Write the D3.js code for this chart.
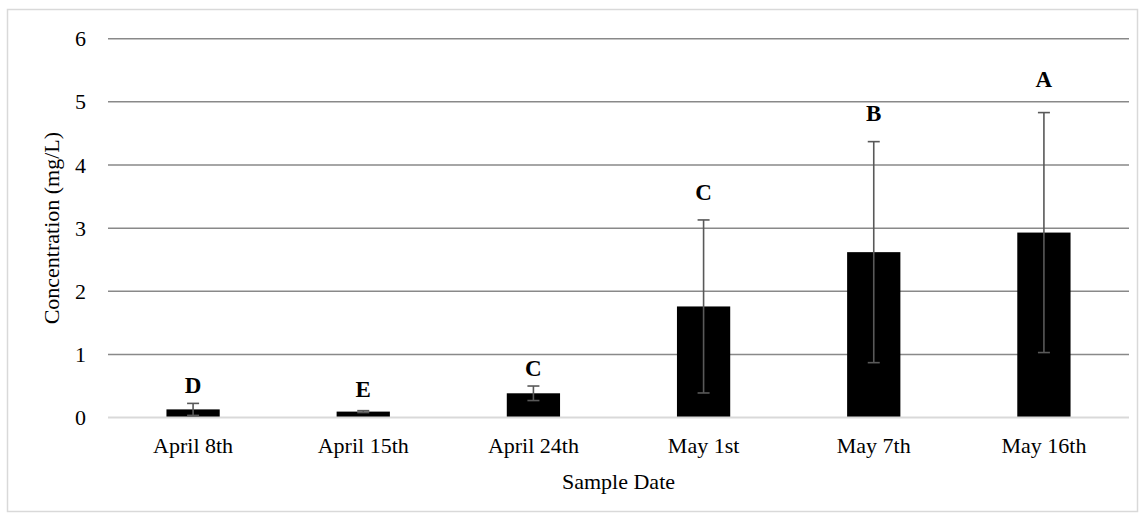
<!DOCTYPE html>
<html>
<head>
<meta charset="utf-8">
<script src="https://cdn.jsdelivr.net/npm/d3@7"></script>
<style>
  html, body { margin: 0; padding: 0; background: #fff; }
  svg { display: block; }
  svg text { font-family: 'Liberation Serif', 'Times New Roman', serif; fill: #000; }
</style>
</head>
<body>
<svg id="chart" width="1145" height="520"></svg>
<script>
// Sample dates and mean concentrations (mg/L) with error-bar half-widths
const dates = ["April 8th", "April 15th", "April 24th", "May 1st", "May 7th", "May 16th"];
const means = [0.13, 0.095, 0.385, 1.76, 2.62, 2.93];
const errors = [0.095, 0.015, 0.115, 1.37, 1.75, 1.90];
// Significance group letters and the height (mg/L) at which each is written
const letters = ["D", "E", "C", "C", "B", "A"];
const letterHeights = [0.52, 0.46, 0.78, 3.58, 4.82, 5.37];
const yTicks = [0, 1, 2, 3, 4, 5, 6];

const svg = d3.select("#chart");
const serif = "'Liberation Serif', 'Times New Roman', serif";

// Outer chart frame
svg.append("rect")
  .attr("x", 7.5).attr("y", 9.5)
  .attr("width", 1130).attr("height", 502)
  .attr("fill", "#fff").attr("stroke", "#d9d9d9").attr("stroke-width", 1.5);

const plot = { left: 108, right: 1129, top: 38.7, bottom: 417.6 };

const x = d3.scaleBand()
  .domain(dates)
  .range([plot.left, plot.right])
  .paddingInner(0.687)
  .paddingOuter(0.3435);

const y = d3.scaleLinear()
  .domain([0, 6])
  .range([plot.bottom, plot.top]);

// Horizontal gridlines (the zero line is drawn as the category axis)
svg.append("g")
  .selectAll("line")
  .data(yTicks.filter(t => t > 0))
  .join("line")
  .attr("x1", plot.left).attr("x2", plot.right)
  .attr("y1", d => y(d)).attr("y2", d => y(d))
  .attr("stroke", "#898989").attr("stroke-width", 1.5);

// Y axis tick labels
const yAxis = d3.axisLeft(y).tickValues(yTicks).tickSize(0).tickPadding(22).tickFormat(d3.format("d"));
const gy = svg.append("g").attr("transform", `translate(${plot.left},0)`).call(yAxis);
gy.attr("font-family", null).attr("font-size", null);
gy.select(".domain").remove();
gy.selectAll("text").style("font-family", serif).style("font-size", "22px");

// Bars
svg.append("g")
  .selectAll("rect")
  .data(dates)
  .join("rect")
  .attr("x", d => x(d))
  .attr("width", x.bandwidth())
  .attr("y", (d, i) => y(means[i]))
  .attr("height", (d, i) => y(0) - y(means[i]))
  .attr("fill", "#000");

// Category axis along zero
const xAxis = d3.axisBottom(x).tickSize(0).tickPadding(20);
const gx = svg.append("g").attr("transform", `translate(0,${y(0)})`).call(xAxis);
gx.attr("font-family", null).attr("font-size", null);
gx.select(".domain").attr("stroke", "#d9d9d9").attr("stroke-width", 2)
  .attr("d", `M${plot.left},0H${plot.right}`);
gx.selectAll("text").style("font-family", serif).style("font-size", "22px");

// Error bars
const capHalf = 6;
const eb = svg.append("g").attr("stroke", "#595959").attr("stroke-width", 1.6);
dates.forEach((d, i) => {
  const cx = x(d) + x.bandwidth() / 2;
  const lo = y(means[i] - errors[i]);
  const hi = y(means[i] + errors[i]);
  eb.append("line").attr("x1", cx).attr("x2", cx).attr("y1", lo).attr("y2", hi);
  eb.append("line").attr("x1", cx - capHalf).attr("x2", cx + capHalf).attr("y1", lo).attr("y2", lo);
  eb.append("line").attr("x1", cx - capHalf).attr("x2", cx + capHalf).attr("y1", hi).attr("y2", hi);
});

// Group letters
svg.append("g")
  .selectAll("text")
  .data(dates)
  .join("text")
  .attr("x", d => x(d) + x.bandwidth() / 2)
  .attr("y", (d, i) => y(letterHeights[i]))
  .attr("dy", "0.35em")
  .attr("text-anchor", "middle")
  .style("font-family", serif)
  .style("font-size", "23px").style("font-weight", "bold")
  .text((d, i) => letters[i]);

// Axis titles
svg.append("text")
  .attr("x", (plot.left + plot.right) / 2)
  .attr("y", 489)
  .attr("text-anchor", "middle")
  .style("font-family", serif).style("font-size", "22px")
  .text("Sample Date");

svg.append("text")
  .attr("transform", `translate(59,${(plot.top + plot.bottom) / 2}) rotate(-90)`)
  .attr("text-anchor", "middle")
  .style("font-family", serif).style("font-size", "22px")
  .text("Concentration (mg/L)");
</script>
</body>
</html>
